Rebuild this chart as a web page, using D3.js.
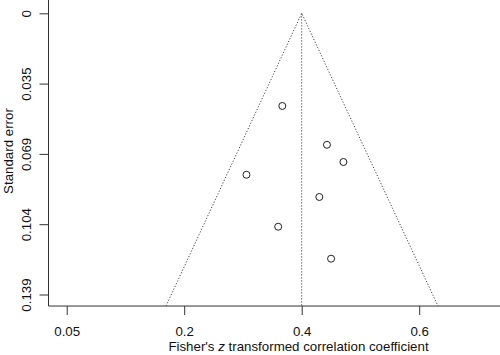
<!DOCTYPE html>
<html><head><meta charset="utf-8">
<script src="https://cdn.jsdelivr.net/npm/d3@7"></script>
<style>body{margin:0;background:#fff}svg{display:block}text{font-family:"Liberation Sans",Arial,sans-serif}</style>
</head><body><div id="chart"></div>
<script>
// Data
const effectSizes = [0.367, 0.443, 0.471, 0.306, 0.430, 0.360, 0.450];
const standardErrors = [0.0458, 0.0650, 0.0735, 0.0798, 0.0908, 0.1055, 0.1213];
const summaryEffect = 0.4;
const funnelBottomSE = 0.1447;
const funnelBottomLow = 0.169;
const funnelBottomHigh = 0.632;
const xTickValues = [0, 0.2, 0.4, 0.6];
const xTickLabels = ["0.05", "0.2", "0.4", "0.6"];
const yTickValues = [0, 0.03475, 0.0695, 0.10425, 0.139];
const yTickLabels = ["0", "0.035", "0.069", "0.104", "0.139"];

const W = 500, H = 355, FS = 13.3;
const svg = d3.select("#chart").append("svg").attr("width", W).attr("height", H);

const x = d3.scaleLinear().domain([0, 0.4]).range([66.7, 301.7]);
const y = d3.scaleLinear().domain([0, 0.139]).range([13.3, 294.5]);
const left = 48.5, bottom = y(funnelBottomSE);

// axis lines (L-shaped)
svg.append("line").attr("x1", left).attr("x2", left).attr("y1", 0).attr("y2", bottom)
  .attr("stroke", "#333").attr("stroke-width", 1);
svg.append("line").attr("x1", left).attr("x2", W).attr("y1", bottom).attr("y2", bottom)
  .attr("stroke", "#333").attr("stroke-width", 1);

// x axis
const xAxis = d3.axisBottom(x).tickValues(xTickValues)
  .tickFormat((d, i) => xTickLabels[i]).tickSize(9).tickPadding(12);
const gx = svg.append("g").attr("transform", `translate(0,${bottom})`).call(xAxis);
gx.select(".domain").remove();
gx.selectAll("line").attr("stroke", "#333");
gx.selectAll("text").attr("font-size", FS).attr("fill", "#111");

// y axis
const yAxis = d3.axisLeft(y).tickValues(yTickValues)
  .tickFormat((d, i) => yTickLabels[i]).tickSize(9);
const gy = svg.append("g").attr("transform", `translate(${left},0)`).call(yAxis);
gy.select(".domain").remove();
gy.selectAll("line").attr("stroke", "#333");
gy.selectAll("text").attr("font-size", FS).attr("fill", "#111")
  .attr("text-anchor", "middle")
  .attr("transform", "rotate(-90)")
  .attr("x", 0).attr("y", -18).attr("dy", 0);

// axis titles
const xt = svg.append("text").attr("x", 298.5).attr("y", 350.5).attr("text-anchor", "middle")
  .attr("font-size", FS).attr("fill", "#111");
xt.append("tspan").text("Fisher's ");
xt.append("tspan").attr("font-style", "italic").text("z");
xt.append("tspan").text(" transformed correlation coefficient");
svg.append("text").attr("transform", "rotate(-90)").attr("x", -151).attr("y", 12.5)
  .attr("text-anchor", "middle").attr("font-size", FS).attr("fill", "#111").text("Standard error");

// funnel
const dash = "1.2,1.8";
svg.append("path")
  .attr("d", d3.line()([[x(funnelBottomLow), y(funnelBottomSE)], [x(summaryEffect), y(0)], [x(funnelBottomHigh), y(funnelBottomSE)]]))
  .attr("fill", "none").attr("stroke", "#444").attr("stroke-dasharray", dash);
svg.append("line").attr("x1", x(summaryEffect)).attr("x2", x(summaryEffect))
  .attr("y1", y(0)).attr("y2", y(funnelBottomSE))
  .attr("stroke", "#444").attr("stroke-dasharray", dash);

// points
svg.selectAll("circle.pt").data(effectSizes).join("circle").attr("class", "pt")
  .attr("cx", d => x(d)).attr("cy", (d, i) => y(standardErrors[i])).attr("r", 3.5)
  .attr("fill", "none").attr("stroke", "#222").attr("stroke-width", 1);
</script></body></html>
